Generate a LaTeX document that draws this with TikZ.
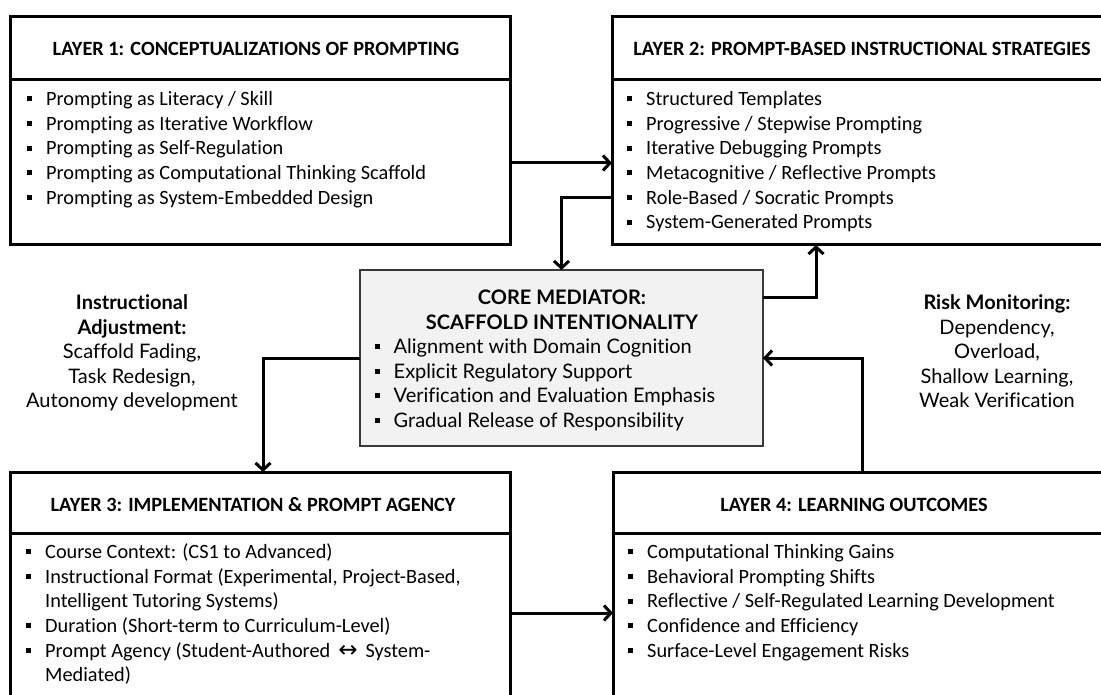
\documentclass[tikz,border=0pt]{standalone}
\usepackage{fontspec}
\setmainfont{Carlito}[Ligatures={TeX,NoCommon}]
\newfontfamily\aptos{Lato}[Ligatures={TeX,NoCommon}]
\newfontfamily\dejavu{DejaVu Sans}
\usetikzlibrary{arrows.meta}
\newcommand\sqbul{\rule[4.3pt]{5pt}{5pt}}
\newcommand\bitem{\makebox[19pt][l]{\sqbul}}
\newcommand\bcont{\hspace*{19pt}}
\definecolor{midfill}{HTML}{F2F2F2}
\definecolor{midline}{HTML}{3A3A3A}
\begin{document}
\begin{tikzpicture}[x=1pt,y=-1pt,
  layerbox/.style={draw=black,line width=3pt,inner sep=0pt,outer sep=0pt},
  divline/.style={line width=3pt},
  ttl/.style={font=\fontsize{20.3}{24.7}\selectfont\bfseries,inner sep=0pt},
  lst/.style={font=\fontsize{20.3}{24.7}\selectfont,align=left,inner sep=0pt,anchor=north west},
  midbox/.style={draw=midline,fill=midfill,line width=1.3pt,inner sep=0pt,outer sep=0pt},
  midtxt/.style={font=\aptos\fontsize{20}{24.6}\selectfont,inner sep=0pt},
  arr/.style={line width=3pt,-{Straight Barb[length=7pt,width=15pt]}}
]
\useasboundingbox (0,0) rectangle (1101,695);
\clip (0,0) rectangle (1101,695);
\fill[white] (0,0) rectangle (1101,695);

% layer boxes
\node[layerbox,minimum width=500pt,minimum height=228pt] (l1) at (260,131) {};
\node[layerbox,minimum width=503pt,minimum height=228pt] (l2) at (863.5,131) {};
\node[layerbox,minimum width=500pt,minimum height=250pt] (l3) at (260,597) {};
\node[layerbox,minimum width=502pt,minimum height=250pt] (l4) at (864,597) {};

% dividers
\coordinate (d1) at (0,80);
\coordinate (d3) at (0,533);
\draw[divline] (l1.west |- d1) -- (l1.east |- d1);
\draw[divline] (l2.west |- d1) -- (l2.east |- d1);
\draw[divline] (l3.west |- d3) -- (l3.east |- d3);
\draw[divline] (l4.west |- d3) -- (l4.east |- d3);

% titles
\node[ttl] (t1) at (256,49) {LAYER 1: CONCEPTUALIZATIONS OF PROMPTING};
\node[ttl] (t2) at (862,49) {LAYER 2: PROMPT-BASED INSTRUCTIONAL STRATEGIES};
\node[ttl] (t3) at (253,505) {LAYER 3: IMPLEMENTATION \& PROMPT AGENCY};
\node[ttl] (t4) at (854,505) {LAYER 4: LEARNING OUTCOMES};

% lists
\node[lst] (b1) at (27,88) {\strut\bitem Prompting as Literacy / Skill\\
\bitem Prompting as Iterative Workflow\\
\bitem Prompting as Self-Regulation\\
\bitem Prompting as Computational Thinking Scaffold\\
\bitem Prompting as System-Embedded Design};

\node[lst] (b2) at (627,88) {\strut\bitem Structured Templates\\
\bitem Progressive / Stepwise Prompting\\
\bitem Iterative Debugging Prompts\\
\bitem Metacognitive / Reflective Prompts\\
\bitem Role-Based / Socratic Prompts\\
\bitem System-Generated Prompts};

\node[lst] (b3) at (26,541) {\strut\bitem Course Context: (CS1 to Advanced)\\
\bitem Instructional Format (Experimental, Project-Based,\\
\bcont Intelligent Tutoring Systems)\\
\bitem Duration (Short-term to Curriculum-Level)\\
\bitem Prompt Agency (Student-Authored \,{\dejavu\fontsize{23}{24.7}\selectfont\char"2194}\, System-\\
\bcont Mediated)};

\node[lst] (b4) at (628,541) {\strut\bitem Computational Thinking Gains\\
\bitem Behavioral Prompting Shifts\\
\bitem Reflective / Self-Regulated Learning Development\\
\bitem Confidence and Efficiency\\
\bitem Surface-Level Engagement Risks};

% core mediator
\node[midbox,minimum width=403pt,minimum height=176pt] (mid) at (561.5,358) {};
\node[midtxt,font=\aptos\fontsize{20}{24.6}\selectfont\bfseries,align=center,anchor=north] (mt) at (562,287) {\strut CORE MEDIATOR:\\SCAFFOLD INTENTIONALITY};
\node[midtxt,align=left,anchor=north west] (ml) at (374.5,336) {\strut\bitem Alignment with Domain Cognition\\
\bitem Explicit Regulatory Support\\
\bitem Verification and Evaluation Emphasis\\
\bitem Gradual Release of Responsibility};

% side labels
\node[midtxt,align=center,anchor=north] (adj) at (132,292) {\strut\textbf{Instructional}\\\textbf{Adjustment:}\\Scaffold Fading,\\Task Redesign,\\Autonomy development};
\node[midtxt,align=center,anchor=north] (risk) at (997,292) {\strut\textbf{Risk Monitoring:}\\Dependency,\\Overload,\\Shallow Learning,\\Weak Verification};

% connectors
\coordinate (p12) at (0,163);
\coordinate (p2m) at (0,198);
\coordinate (c1) at (816,298);
\coordinate (c2) at (862,358);
\coordinate (c3) at (263,358);
\coordinate (p34) at (0,613);
\draw[arr] (l1.east |- p12) -- (l2.west |- p12);
\draw[arr] (l2.west |- p2m) -| (mid.north);
\draw[arr] (mid.east |- c1) -| (l2.south -| c1);
\draw[arr] (l4.north -| c2) |- (mid.east |- c2);
\draw[arr] (mid.west |- c3) -| (l3.north -| c3);
\draw[arr] (l3.east |- p34) -- (l4.west |- p34);
\end{tikzpicture}
\end{document}
